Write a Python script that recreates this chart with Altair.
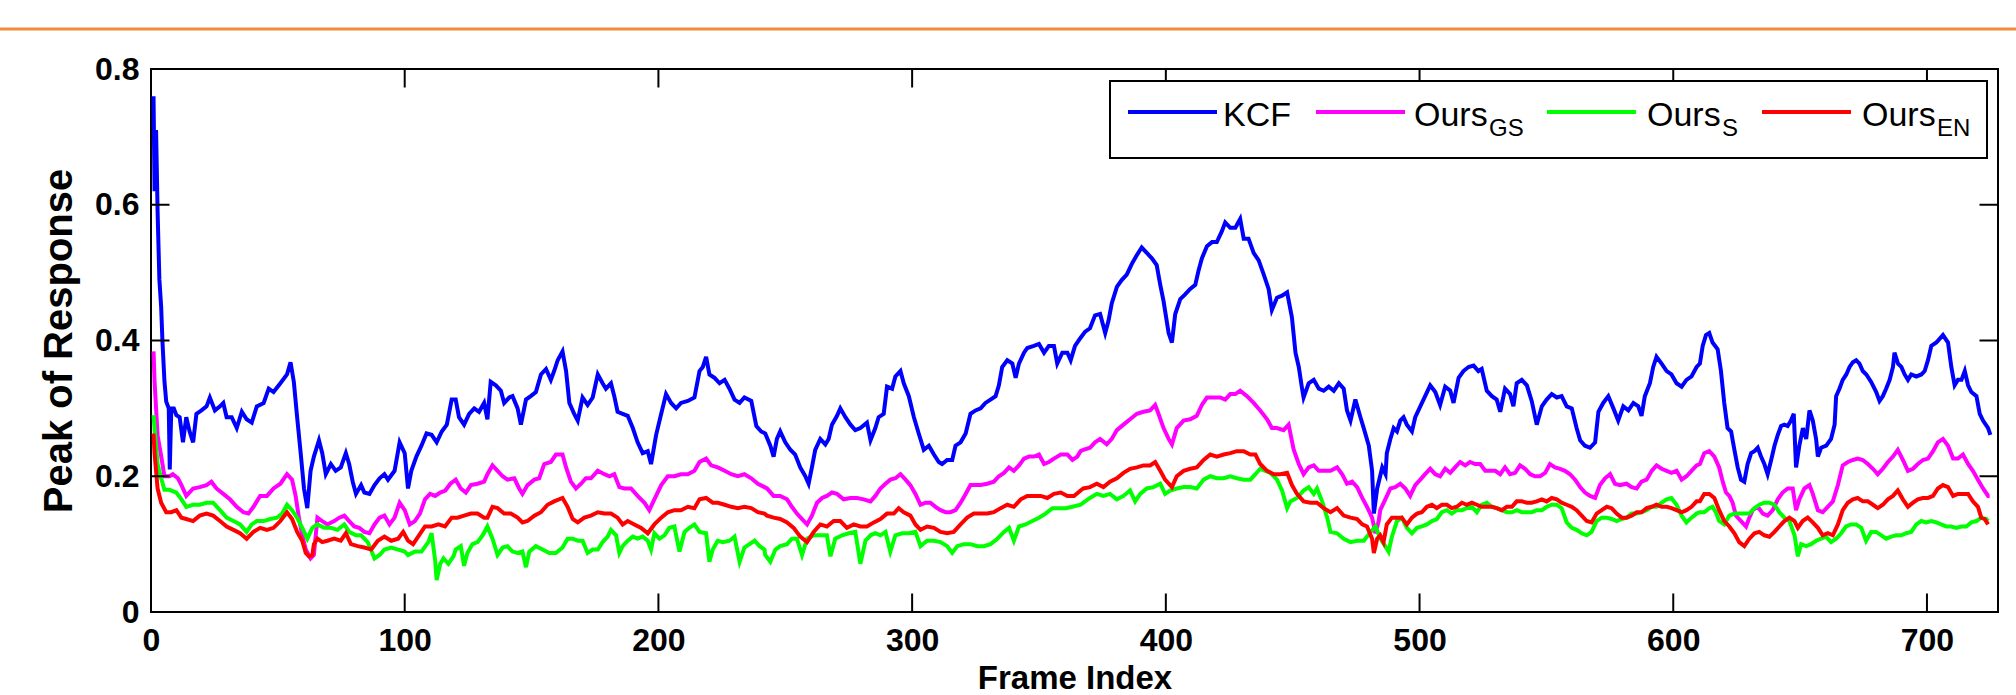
import altair as alt
import pandas as pd

SERIES = ["KCF", "OursGS", "OursS", "OursEN"]
COLORS = ["#0000FF", "#FF00FF", "#00FF00", "#FF0000"]
X_TICKS = [0, 100, 200, 300, 400, 500, 600, 700]
Y_TICKS = [0, 0.2, 0.4, 0.6, 0.8]
X_MAX = 728
Y_MAX = 0.8
X_TITLE = "Frame Index"
Y_TITLE = "Peak of Response"
LEGEND_MAIN = ["KCF", "Ours", "Ours", "Ours"]
LEGEND_SUB = ["", "GS", "S", "EN"]

# KCF: (frame, peak) pairs
KCF = [
    (1, 0.76), (1.4, 0.62), (2, 0.71), (2.6, 0.59), (3.3, 0.49), (4, 0.45), (4.5, 0.40), (5.3, 0.34), (6, 0.31), (7, 0.30),
    (7.4, 0.21), (8, 0.30), (9, 0.30), (10, 0.29), (11.3, 0.287), (12.6, 0.25), (13.9, 0.287), (15.2, 0.266), (16.6, 0.25), (17.9, 0.292),
    (19.9, 0.297), (21.9, 0.303), (23.2, 0.316), (25.2, 0.297), (27.2, 0.303), (28.5, 0.308), (29.8, 0.287), (31.8, 0.287), (33.8, 0.271), (35.8, 0.295),
    (37.7, 0.284), (39.7, 0.279), (41.7, 0.303), (44.4, 0.308), (46.4, 0.329), (48.3, 0.324), (51, 0.337), (53.6, 0.35), (55, 0.368), (56.3, 0.339),
    (57.6, 0.287), (59, 0.234), (60.3, 0.182), (61.6, 0.153), (62.9, 0.208), (64.2, 0.229), (66.2, 0.253), (67.5, 0.234), (68.9, 0.203), (70.9, 0.218),
    (72.8, 0.208), (74.8, 0.213), (76.8, 0.234), (78.1, 0.218), (79.5, 0.192), (80.8, 0.174), (82.8, 0.187), (84.1, 0.176), (86.1, 0.174), (88.1, 0.187),
    (90.1, 0.197), (92, 0.203), (93.4, 0.195), (96, 0.208), (98, 0.25), (100, 0.234), (101.3, 0.182), (102.6, 0.208), (104.6, 0.229), (106.6, 0.245),
    (108.6, 0.263), (110.6, 0.261), (112.6, 0.25), (114.6, 0.266), (116.6, 0.276), (118.5, 0.313),
    (120.1, 0.313), (121.4, 0.287), (123.4, 0.276), (125.4, 0.292), (127.4, 0.3), (129.3, 0.295), (131.3, 0.308), (132.6, 0.284), (133.9, 0.339), (135.9, 0.334),
    (137.9, 0.326), (139.2, 0.308), (141.2, 0.316), (142.5, 0.318), (144.5, 0.3), (145.8, 0.276), (147.8, 0.313), (149.7, 0.318), (151.7, 0.324), (153.7, 0.35),
    (155.7, 0.358), (157.6, 0.342), (158.9, 0.355), (160.3, 0.371), (162.2, 0.384), (163.6, 0.355), (164.9, 0.308), (166.8, 0.292), (168.2, 0.282), (170.1, 0.316),
    (172.1, 0.305), (174.1, 0.316), (176.1, 0.35), (178, 0.337), (179.3, 0.329), (181.3, 0.337), (182.6, 0.318), (183.9, 0.295), (185.9, 0.292), (187.9, 0.289),
    (189.9, 0.271), (191.8, 0.25), (193.8, 0.234), (195.8, 0.237), (197.1, 0.218), (199.1, 0.261), (201.1, 0.292), (203, 0.321), (205, 0.308), (207, 0.3),
    (208.9, 0.308), (211.6, 0.311), (214.2, 0.316), (216.2, 0.355), (217.5, 0.361), (218.8, 0.376), (220.1, 0.35), (222.1, 0.345), (224.1, 0.337), (226.1, 0.342),
    (228, 0.329), (230, 0.313), (232, 0.308), (233.9, 0.316), (236.6, 0.311), (238.6, 0.274), (240.5, 0.266),
    (242.1, 0.263), (244.1, 0.245), (245.4, 0.229), (246.7, 0.255), (248, 0.266), (250, 0.25), (252, 0.239), (253.9, 0.232), (255.9, 0.213), (257.9, 0.2),
    (259.2, 0.189), (260.5, 0.213), (261.8, 0.239), (263.8, 0.255), (265.8, 0.247), (267.1, 0.255), (268.4, 0.276), (270.4, 0.289), (271.7, 0.3), (273.7, 0.287),
    (275.7, 0.276), (277.6, 0.268), (279.6, 0.271), (282.2, 0.279), (283.6, 0.253), (285.5, 0.271), (286.8, 0.287), (288.8, 0.292), (290.1, 0.332), (292.1, 0.329),
    (293.4, 0.347), (295.4, 0.355), (296.7, 0.337), (298.7, 0.318), (300.7, 0.287), (302.6, 0.263), (304.6, 0.239), (306.6, 0.245), (308.6, 0.232), (310.5, 0.221),
    (311.8, 0.218), (313.8, 0.224), (315.8, 0.224), (317.1, 0.245), (319.1, 0.25), (321.1, 0.263), (323, 0.292), (325, 0.297), (327, 0.3), (328.9, 0.308),
    (330.9, 0.313), (332.9, 0.318), (334.2, 0.334), (335.5, 0.361), (337.5, 0.371), (339.5, 0.366), (340.8, 0.345), (342.1, 0.366), (344.1, 0.382), (345.4, 0.389),
    (348, 0.392), (350, 0.395), (352, 0.382), (353.9, 0.392), (355.9, 0.392), (357.2, 0.366), (359.2, 0.382), (361.2, 0.382), (362.5, 0.371),
    (364.2, 0.392), (366.2, 0.403), (368.2, 0.413), (370.1, 0.418), (372.1, 0.437), (374.1, 0.439), (376.1, 0.411), (377.4, 0.429), (378.7, 0.455), (380.7, 0.479),
    (382.6, 0.489), (384.6, 0.497), (386.6, 0.513), (388.6, 0.526), (390.5, 0.537), (392.5, 0.529), (394.5, 0.521), (396.4, 0.511), (397.8, 0.482), (399.1, 0.458),
    (401.1, 0.411), (402.4, 0.397), (403.7, 0.439), (405.7, 0.461), (407.6, 0.468), (409.6, 0.476), (411.6, 0.482), (412.9, 0.503), (414.2, 0.521), (416.2, 0.539),
    (418.2, 0.545), (420.1, 0.545), (422.1, 0.561), (423.4, 0.574), (425.4, 0.566), (427.4, 0.566), (429.3, 0.579), (430.7, 0.55), (432.6, 0.55), (434.6, 0.529),
    (436.6, 0.518), (438.6, 0.497), (440.5, 0.476), (441.8, 0.445), (443.8, 0.463), (445.8, 0.466), (447.8, 0.471), (449.7, 0.434), (451.1, 0.382), (452.4, 0.361),
    (453.7, 0.329), (454.3, 0.316), (456.3, 0.337), (458.3, 0.342), (460.3, 0.329), (462.2, 0.326), (464.2, 0.332), (466.2, 0.326), (468.2, 0.337), (470.1, 0.329),
    (471.4, 0.297), (472.8, 0.282), (474.7, 0.313), (476.7, 0.287), (478, 0.271), (480, 0.245), (481.3, 0.208), (482, 0.145), (483.3, 0.182), (485.3, 0.213),
    (486.6, 0.203),
    (487.1, 0.234), (488.5, 0.255), (489.8, 0.271), (491.1, 0.266), (492.4, 0.282), (493.7, 0.287), (495, 0.276), (497, 0.266), (498.3, 0.287), (500.3, 0.303),
    (502.2, 0.318), (504.2, 0.334), (506.2, 0.324), (508.1, 0.305), (510.1, 0.332), (512.1, 0.326), (513.4, 0.308), (515.4, 0.345), (517.3, 0.355), (519.3, 0.361),
    (521.3, 0.363), (523.2, 0.355), (524.5, 0.358), (526.5, 0.326), (528.5, 0.318), (530.4, 0.313), (531.8, 0.295), (533.7, 0.329), (535.7, 0.321), (537, 0.303),
    (538.3, 0.337), (540.3, 0.342), (542.3, 0.334), (544.2, 0.311), (546.2, 0.276), (548.2, 0.303), (550.1, 0.313), (552.1, 0.321), (554.1, 0.316), (556, 0.318),
    (558, 0.303), (560, 0.3), (561.9, 0.271), (563.3, 0.253), (565.2, 0.245), (567.2, 0.242), (569.2, 0.25), (570.5, 0.295), (572.4, 0.308), (574.4, 0.318),
    (576.4, 0.3), (578.3, 0.282), (580.3, 0.303), (582.3, 0.297), (584.3, 0.308), (586.2, 0.303), (587.5, 0.289), (588.8, 0.318), (590.8, 0.337), (592.1, 0.361),
    (593.4, 0.376), (595.4, 0.366), (597.4, 0.355), (599.3, 0.35), (601.3, 0.337), (603.3, 0.332), (605.2, 0.342), (607.2, 0.347),
    (609.2, 0.361), (610.5, 0.366), (611.6, 0.392), (612.9, 0.408), (614.2, 0.411), (615.5, 0.397), (617.5, 0.387), (618.8, 0.355), (620.1, 0.308), (621.4, 0.271),
    (622.8, 0.266), (624.1, 0.239), (625.4, 0.213), (626.7, 0.195), (628, 0.192), (629.3, 0.218), (630.7, 0.234), (632, 0.237), (633.3, 0.242), (634.6, 0.229),
    (635.9, 0.218), (637.2, 0.203), (638.6, 0.224), (639.9, 0.245), (641.2, 0.261), (642.5, 0.274), (643.8, 0.276), (645.1, 0.274), (646.4, 0.282), (647.5, 0.292),
    (648.4, 0.213), (649.7, 0.245), (651.1, 0.271), (652.4, 0.255), (653.7, 0.297), (655, 0.282), (656.3, 0.255), (657, 0.229), (658.3, 0.242), (660.3, 0.245),
    (662.2, 0.255), (663.6, 0.276), (664.2, 0.318), (665.5, 0.329), (666.8, 0.342), (668.2, 0.35), (669.5, 0.361), (670.8, 0.368), (672.1, 0.371), (673.4, 0.366),
    (674.7, 0.355), (676.1, 0.35), (678, 0.339), (680, 0.324), (681.3, 0.311), (682.6, 0.318), (683.9, 0.329), (685.3, 0.342), (686.6, 0.361), (687.2, 0.382),
    (688.6, 0.366), (689.9, 0.361), (691.2, 0.35), (692.5, 0.342), (693.8, 0.35), (695.8, 0.347), (697.8, 0.35), (699.1, 0.355), (700.4, 0.371), (701.7, 0.392),
    (703.7, 0.397), (706.3, 0.408), (708.3, 0.397), (709.6, 0.361), (710.9, 0.334), (712.2, 0.342), (713.6, 0.342), (714.9, 0.355), (716.2, 0.334), (717.5, 0.324),
    (719.5, 0.318), (720.8, 0.292), (722.1, 0.282), (724.1, 0.271), (725, 0.261),
]

# Ours_GS (magenta)
GS_F = [
    1, 1.4, 2.6, 4, 5.3, 7.3, 8.6, 10.6, 12, 13.9, 16.6, 19.2, 21.9, 23.8, 25.8, 28.5, 31.1, 33.8, 36.4, 38.4,
    40.4, 43, 45.7, 48.3, 51, 53.6, 55.6, 57, 58.3, 59.6, 61, 62.9, 64.2, 65.6, 67.5, 69.5, 72.2, 74.2, 76.2, 78.1,
    80.1, 82.1, 84.1, 86.1, 88.1, 90.1, 92, 94, 96, 98, 100, 102, 104, 106, 108, 110, 112, 114, 116, 118,
    120.1, 122.1, 124.1, 126.1, 128.7, 131.3, 132.6, 134.6, 136.6, 138.6, 140.5, 143.2, 145.1, 146.4, 148.4, 151.1, 153, 155, 157.6, 159.6,
    162.2, 163.6, 165.5, 167.5, 169.5, 171.4, 173.4, 176.1, 178.7, 180.7, 182.6, 184.6, 186.6, 189.2, 191.8, 194.5, 196.4, 198.4, 201.1, 203.7,
    206.3, 208.9, 211.6, 214.2, 216.2, 218.8, 220.8, 223.4, 226.1, 228.7, 231.3, 233.9, 236.6, 239.2, 241.8,
    242.8, 245.4, 248, 250.7, 252.6, 254.6, 256.6, 258.6, 260.5, 262.5, 264.5, 266.4, 268.4, 270.4, 273, 275.7, 278.3, 280.9, 283.6, 285.5,
    287.5, 289.5, 291.4, 293.4, 295.4, 297.4, 299.3, 301.3, 303.3, 305.3, 307.2, 309.2, 311.2, 313.2, 315.1, 317.1, 319.1, 321.1, 323, 325,
    327, 329.6, 332.2, 334.2, 336.2, 338.2, 340.1, 342.1, 344.1, 346.1, 348, 350, 352, 353.9, 355.9, 358.6, 361.2, 363.2, 365.1, 366.4,
    367.5, 370.1, 372.1, 374.1, 376.7, 378.7, 380.7, 383.3, 385.9, 388.6, 391.2, 393.8, 395.8, 397.1, 399.1, 401.1, 402.4, 404.3, 407, 409.6,
    412.2, 414.2, 416.2, 418.8, 421.4, 423.4, 425.4, 427.4, 429.3, 432, 434.6, 437.2, 439.9, 441.8, 443.8, 446.4, 448.4, 450.4, 452.4, 454.3,
    456.3, 458.3, 460.3, 462.2, 464.9, 467.5, 469.5, 471.4, 473.4, 475.4, 477.4, 479.3, 481.3, 482.6, 483.9,
    484.5, 486.5, 488.5, 490.4, 492.4, 494.4, 496.3, 498.3, 500.3, 502.2, 504.2, 506.2, 508.1, 510.1, 512.1, 514, 516, 518, 519.9, 521.9,
    523.9, 525.9, 527.8, 529.8, 531.8, 533.7, 535.7, 537.7, 539.6, 541.6, 543.6, 545.5, 547.5, 549.5, 551.4, 553.4, 555.4, 557.3, 559.3, 561.3,
    563.3, 565.2, 567.2, 569.2, 571.1, 573.1, 575.1, 577, 579, 581.6, 583.6, 585.6, 587.5, 589.5, 591.5, 593.4, 595.4, 597.4, 599.3, 601.3,
    603.3, 605.2, 607.2, 609.2, 610.5,
    612.2, 614.2, 616.2, 618.1, 619.5, 620.8, 622.1, 623.4, 624.7, 626.7, 628.7, 630, 631.3, 633.3, 635.3, 637.2, 639.2, 641.2, 643.1, 645.1,
    647.1, 648.4, 649.7, 651.7, 653.7, 655, 657, 658.9, 660.9, 662.9, 664.9, 666.8, 668.8, 670.8, 672.7, 674.7, 676.7, 678.7, 680.6, 682.6,
    684.6, 686.6, 688.5, 690.5, 692.5, 694.5, 696.4, 698.4, 700.4, 702.4, 704.3, 706.3, 708.3, 710.3, 712.2, 714.2, 716.2, 718.1, 720.1, 722.1,
    724.1, 724.7,
]
GS_V = [
    0.384, 0.34, 0.26, 0.23, 0.2, 0.2, 0.203, 0.197, 0.187, 0.171, 0.182, 0.184, 0.187, 0.192, 0.182, 0.174, 0.166, 0.155, 0.147, 0.145,
    0.155, 0.171, 0.171, 0.182, 0.189, 0.203, 0.195, 0.171, 0.139, 0.113, 0.092, 0.079, 0.084, 0.139, 0.134, 0.129, 0.134, 0.139, 0.142, 0.134,
    0.126, 0.124, 0.118, 0.116, 0.129, 0.139, 0.142, 0.129, 0.139, 0.161, 0.15, 0.129, 0.134, 0.145, 0.166, 0.174, 0.171, 0.176, 0.179, 0.189,
    0.195, 0.182, 0.176, 0.187, 0.189, 0.192, 0.203, 0.216, 0.208, 0.2, 0.195, 0.197, 0.182, 0.174, 0.187, 0.195, 0.197, 0.218, 0.221, 0.232,
    0.232, 0.213, 0.192, 0.182, 0.189, 0.197, 0.197, 0.208, 0.203, 0.2, 0.203, 0.184, 0.182, 0.182, 0.171, 0.161, 0.15, 0.166, 0.187, 0.2,
    0.2, 0.203, 0.203, 0.208, 0.221, 0.226, 0.216, 0.213, 0.208, 0.203, 0.2, 0.203, 0.197, 0.189, 0.184,
    0.182, 0.171, 0.171, 0.166, 0.155, 0.145, 0.137, 0.129, 0.142, 0.161, 0.168, 0.171, 0.176, 0.174, 0.166, 0.168, 0.168, 0.166, 0.163, 0.171,
    0.182, 0.189, 0.195, 0.197, 0.203, 0.195, 0.187, 0.174, 0.158, 0.161, 0.161, 0.155, 0.15, 0.147, 0.147, 0.15, 0.161, 0.174, 0.187, 0.187,
    0.187, 0.189, 0.192, 0.2, 0.205, 0.213, 0.208, 0.216, 0.226, 0.229, 0.229, 0.232, 0.218, 0.221, 0.226, 0.232, 0.232, 0.224, 0.229, 0.237,
    0.239, 0.242, 0.25, 0.255, 0.247, 0.255, 0.268, 0.276, 0.284, 0.292, 0.295, 0.297, 0.305, 0.292, 0.271, 0.255, 0.247, 0.271, 0.282, 0.284,
    0.289, 0.305, 0.316, 0.316, 0.316, 0.313, 0.321, 0.321, 0.326, 0.318, 0.308, 0.297, 0.284, 0.271, 0.271, 0.268, 0.276, 0.239, 0.218, 0.203,
    0.213, 0.216, 0.208, 0.208, 0.208, 0.213, 0.203, 0.189, 0.192, 0.184, 0.168, 0.155, 0.139, 0.116, 0.134,
    0.15, 0.166, 0.182, 0.184, 0.189, 0.182, 0.171, 0.187, 0.195, 0.203, 0.211, 0.203, 0.2, 0.211, 0.205, 0.213, 0.221, 0.216, 0.221, 0.218,
    0.218, 0.208, 0.208, 0.208, 0.203, 0.213, 0.203, 0.205, 0.216, 0.211, 0.203, 0.2, 0.2, 0.205, 0.218, 0.213, 0.211, 0.208, 0.203, 0.195,
    0.184, 0.176, 0.171, 0.168, 0.187, 0.197, 0.203, 0.189, 0.187, 0.189, 0.184, 0.182, 0.192, 0.195, 0.208, 0.216, 0.211, 0.208, 0.205, 0.208,
    0.195, 0.2, 0.208, 0.216, 0.218,
    0.234, 0.237, 0.229, 0.213, 0.192, 0.176, 0.171, 0.161, 0.142, 0.134, 0.126, 0.139, 0.15, 0.155, 0.145, 0.142, 0.15, 0.166, 0.176, 0.182,
    0.182, 0.15, 0.166, 0.182, 0.187, 0.174, 0.15, 0.147, 0.155, 0.163, 0.187, 0.216, 0.221, 0.224, 0.226, 0.224, 0.218, 0.211, 0.203, 0.211,
    0.221, 0.229, 0.239, 0.224, 0.208, 0.211, 0.218, 0.224, 0.226, 0.237, 0.25, 0.255, 0.245, 0.226, 0.226, 0.232, 0.218, 0.208, 0.195, 0.182,
    0.171, 0.171,
]

# Ours_S (green)
S_F = [
    1, 1.4, 2.6, 4, 5.3, 7.3, 10, 12, 13.9, 16.6, 19.2, 21.9, 24.5, 27.2, 29.8, 32.5, 35.1, 37.7, 39.7, 41.7,
    44.4, 47, 49.7, 51.7, 53.6, 55.6, 57.6, 59.6, 61.6, 63.6, 65.6, 68.2, 70.9, 73.5, 76.2, 78.1, 80.8, 82.8, 85.4, 88.1,
    90.1, 92, 94.7, 97.4, 100, 101.3, 104, 106.6, 109.3, 110.6, 112, 112.6, 114, 115.3, 117.2, 119.2,
    120.1, 122.1, 123.4, 124.7, 126.7, 128.7, 130.7, 132.6, 134.6, 136.6, 138.6, 140.5, 142.5, 144.5, 146.4, 147.8, 149.1, 151.7, 154.3, 157,
    159.6, 162.2, 164.2, 166.2, 168.2, 170.1, 172.1, 174.1, 176.1, 178, 180, 181.3, 183.3, 184.6, 185.9, 187.9, 189.9, 191.8, 193.8, 195.8,
    197.1, 198.4, 200.4, 202.4, 204.3, 206.3, 208.3, 210.3, 212.2, 214.2, 216.2, 218.8, 220.1, 221.4, 223.4, 225.4, 228, 230, 232, 233.9,
    235.9, 237.9, 239.9, 241.8,
    242.1, 244.1, 246.1, 248, 250.7, 252.6, 254.6, 256.6, 258.6, 261.2, 263.8, 266.4, 267.8, 269.7, 272.4, 275, 277.6, 279.6, 281.6, 283.6,
    285.5, 287.5, 289.5, 291.4, 293.4, 296.1, 298.7, 301.3, 303.3, 305.9, 308.6, 311.2, 313.8, 315.8, 317.8, 320.4, 323, 325.7, 328.3, 330.9,
    333.6, 336.2, 338.2, 340.1, 342.1, 344.7, 347.4, 350, 352.6, 355.3, 357.9, 360.5, 363.2, 366.4,
    367.5, 370.1, 372.8, 375.4, 378, 380.7, 383.3, 385.9, 387.9, 389.9, 392.5, 395.1, 397.8, 399.7, 401.7, 404.3, 407, 409.6, 412.2, 414.9,
    417.5, 420.1, 422.8, 425.4, 428, 430.7, 433.3, 435.3, 437.2, 439.2, 441.2, 443.8, 445.8, 447.8, 449.1, 451.7, 454.3, 456.3, 458.3, 459.6,
    461.6, 463.6, 464.9, 467.5, 470.1, 472.8, 475.4, 478, 480.7, 482.6, 484.6,
    486.5, 487.8, 489.1, 491.1, 493, 495, 497, 499, 500.9, 502.9, 504.9, 506.8, 508.8, 510.8, 512.7, 514.7, 516.7, 518.6, 520.6, 522.6,
    524.5, 526.5, 528.5, 530.4, 532.4, 534.4, 536.4, 538.3, 540.3, 542.3, 544.2, 546.2, 548.2, 550.1, 552.1, 554.1, 556, 558, 560, 561.9,
    563.9, 565.9, 567.8, 569.8, 571.8, 573.8, 575.7, 577.7, 579.7, 581.6, 583.6, 585.6, 587.5, 589.5, 591.5, 593.4, 595.4, 597.4, 599.3, 601.3,
    603.3, 605.2, 607.2, 609.2, 610.5,
    612.2, 614.2, 615.5, 616.8, 618.1, 620.1, 622.1, 624.1, 626, 628, 630, 632, 633.9, 635.9, 637.9, 639.9, 641.8, 643.8, 645.8, 647.8,
    649.1, 650.4, 652.4, 654.3, 656.3, 658.3, 660.2, 662.2, 664.2, 666.2, 668.1, 670.1, 672.1, 674.1, 676, 678, 680, 682, 683.9, 685.9,
    687.9, 689.9, 691.8, 693.8, 695.8, 697.8, 699.7, 701.7, 703.7, 705.6, 707.6, 709.6, 711.6, 713.5, 715.5, 717.5, 719.5, 721.4, 723.4, 724.1,
]
S_V = [
    0.29, 0.271, 0.218, 0.197, 0.18, 0.18, 0.176, 0.166, 0.155, 0.158, 0.158, 0.161, 0.161, 0.15, 0.139, 0.134, 0.129, 0.118, 0.129, 0.134,
    0.134, 0.137, 0.139, 0.145, 0.158, 0.15, 0.139, 0.124, 0.108, 0.124, 0.129, 0.124, 0.124, 0.121, 0.129, 0.118, 0.113, 0.113, 0.103, 0.079,
    0.084, 0.092, 0.095, 0.092, 0.089, 0.084, 0.089, 0.089, 0.103, 0.116, 0.076, 0.047, 0.071, 0.079, 0.071, 0.082,
    0.092, 0.097, 0.068, 0.087, 0.1, 0.103, 0.113, 0.126, 0.108, 0.084, 0.095, 0.097, 0.089, 0.087, 0.089, 0.066, 0.089, 0.097, 0.092, 0.087,
    0.087, 0.095, 0.108, 0.108, 0.105, 0.105, 0.087, 0.092, 0.092, 0.103, 0.111, 0.121, 0.113, 0.087, 0.097, 0.105, 0.111, 0.108, 0.111, 0.105,
    0.092, 0.116, 0.108, 0.113, 0.124, 0.126, 0.089, 0.118, 0.124, 0.129, 0.118, 0.116, 0.074, 0.092, 0.105, 0.103, 0.105, 0.111, 0.074, 0.095,
    0.1, 0.105, 0.097, 0.092,
    0.084, 0.074, 0.092, 0.097, 0.1, 0.108, 0.108, 0.084, 0.108, 0.113, 0.113, 0.113, 0.082, 0.108, 0.113, 0.116, 0.118, 0.071, 0.105, 0.113,
    0.116, 0.113, 0.118, 0.089, 0.113, 0.116, 0.116, 0.118, 0.097, 0.105, 0.105, 0.103, 0.097, 0.087, 0.097, 0.1, 0.1, 0.097, 0.097, 0.1,
    0.108, 0.118, 0.124, 0.105, 0.126, 0.129, 0.134, 0.139, 0.145, 0.153, 0.153, 0.153, 0.155, 0.158,
    0.161, 0.168, 0.174, 0.171, 0.174, 0.166, 0.171, 0.179, 0.163, 0.174, 0.182, 0.184, 0.189, 0.174, 0.179, 0.182, 0.184, 0.184, 0.182, 0.195,
    0.2, 0.197, 0.197, 0.2, 0.197, 0.195, 0.195, 0.203, 0.211, 0.208, 0.205, 0.195, 0.179, 0.153, 0.163, 0.168, 0.179, 0.184, 0.174, 0.182,
    0.163, 0.139, 0.118, 0.116, 0.108, 0.103, 0.105, 0.105, 0.118, 0.126, 0.108,
    0.097, 0.089, 0.111, 0.134, 0.139, 0.124, 0.116, 0.124, 0.126, 0.129, 0.134, 0.137, 0.147, 0.15, 0.145, 0.15, 0.15, 0.153, 0.155, 0.147,
    0.158, 0.161, 0.155, 0.153, 0.15, 0.147, 0.147, 0.15, 0.147, 0.147, 0.147, 0.15, 0.15, 0.155, 0.158, 0.158, 0.153, 0.132, 0.124, 0.121,
    0.116, 0.113, 0.118, 0.134, 0.139, 0.139, 0.137, 0.134, 0.137, 0.139, 0.145, 0.145, 0.147, 0.15, 0.155, 0.155, 0.161, 0.166, 0.168, 0.158,
    0.142, 0.132, 0.139, 0.145, 0.147,
    0.147, 0.153, 0.155, 0.147, 0.134, 0.129, 0.142, 0.145, 0.145, 0.145, 0.145, 0.153, 0.158, 0.161, 0.161, 0.158, 0.147, 0.139, 0.134, 0.113,
    0.082, 0.1, 0.097, 0.1, 0.105, 0.108, 0.111, 0.103, 0.108, 0.116, 0.126, 0.129, 0.129, 0.124, 0.105, 0.118, 0.118, 0.113, 0.108, 0.111,
    0.113, 0.113, 0.116, 0.118, 0.129, 0.134, 0.132, 0.134, 0.132, 0.129, 0.126, 0.126, 0.124, 0.126, 0.126, 0.132, 0.134, 0.139, 0.137, 0.134,
]

# Ours_EN (red)
EN_F = [
    1, 1.4, 2.6, 4, 6, 8, 10, 12, 13.9, 16.6, 19.2, 21.9, 24.5, 27.2, 29.8, 32.5, 35.1, 37.7, 40.4, 43,
    45.7, 48.3, 51, 53.6, 55.6, 57.6, 59.6, 61, 62.3, 63.6, 64.2, 65.6, 67.5, 69.5, 72.2, 74.8, 76.8, 78.8, 81.5, 84.1,
    86.8, 89.4, 92, 94.7, 97.4, 99.4, 101.3, 103.3, 105.3, 108, 110.6, 113.3, 115.9, 118.5,
    120.8, 123.4, 126.1, 128.7, 131.3, 132.6, 134.6, 136.6, 139.2, 141.8, 144.5, 146.4, 148.4, 151.1, 153.7, 156.3, 158.9, 162.2, 164.2, 166.2,
    168.2, 170.8, 173.4, 176.1, 178.7, 181.3, 183.9, 185.9, 187.9, 190.5, 193.2, 195.8, 198.4, 201.1, 203.7, 206.3, 208.9, 211.6, 214.2, 216.2,
    218.8, 221.4, 223.4, 226.1, 228.7, 231.3, 233.9, 236.6, 239.2, 241.8,
    242.8, 245.4, 248, 250.7, 253.3, 255.9, 258.6, 261.2, 263.8, 266.4, 269.1, 271.7, 274.3, 277, 279.6, 282.2, 284.9, 287.5, 290.1, 292.8,
    294.7, 296.7, 299.3, 301.3, 303.3, 305.9, 308.6, 311.2, 313.8, 316.4, 319.1, 321.7, 324.3, 327, 329.6, 332.2, 334.9, 337.5, 340.1, 342.8,
    345.4, 348, 350.7, 353.3, 355.9, 358.6, 361.2, 363.8, 366.4,
    367.5, 370.1, 372.8, 375.4, 378, 380.7, 383.3, 385.9, 388.6, 391.2, 393.8, 395.8, 397.8, 399.7, 402.4, 404.3, 407, 409.6, 412.2, 414.9,
    417.5, 420.1, 422.8, 425.4, 428, 430.7, 433.3, 435.3, 437.2, 439.9, 442.5, 445.1, 447.8, 449.7, 451.7, 454.3, 457, 459.6, 462.2, 464.9,
    467.5, 470.1, 472.8, 475.4, 477.4, 479.3, 481.3, 482, 483.3,
    484.5, 485.8, 487.1, 489.1, 491.1, 493, 495, 497, 499, 500.9, 502.9, 504.9, 506.8, 508.8, 510.8, 512.7, 514.7, 516.7, 518.6, 520.6,
    522.6, 524.5, 526.5, 528.5, 530.4, 532.4, 534.4, 536.4, 538.3, 540.3, 542.3, 544.2, 546.2, 548.2, 550.1, 552.1, 554.1, 556, 558, 560,
    561.9, 563.9, 565.9, 567.8, 569.8, 571.8, 573.8, 575.7, 577.7, 579.7, 581.6, 583.6, 585.6, 587.5, 589.5, 591.5, 593.4, 595.4, 597.4, 599.3,
    601.3, 603.3, 605.2, 607.2, 609.2, 610.5,
    612.2, 614.2, 616.2, 618.1, 620.1, 622.1, 624.1, 626, 628, 630, 632, 633.9, 635.9, 637.9, 639.9, 641.8, 643.8, 645.8, 647.8, 649.1,
    651, 653, 655, 657, 658.9, 660.9, 662.9, 664.9, 666.8, 668.8, 670.8, 672.7, 674.7, 676.7, 678.7, 680.6, 682.6, 684.6, 686.6, 688.5,
    690.5, 692.5, 694.5, 696.4, 698.4, 700.4, 702.4, 704.3, 706.3, 708.3, 710.3, 712.2, 714.2, 716.2, 718.1, 720.1, 721.4, 722.7, 724.1,
]
EN_V = [
    0.263, 0.234, 0.182, 0.161, 0.147, 0.147, 0.15, 0.139, 0.137, 0.134, 0.142, 0.145, 0.142, 0.134, 0.126, 0.121, 0.116, 0.108, 0.118, 0.124,
    0.121, 0.124, 0.134, 0.147, 0.137, 0.118, 0.105, 0.087, 0.082, 0.084, 0.1, 0.108, 0.103, 0.105, 0.108, 0.105, 0.116, 0.1, 0.097, 0.095,
    0.092, 0.105, 0.111, 0.105, 0.108, 0.118, 0.105, 0.1, 0.111, 0.126, 0.126, 0.129, 0.126, 0.139,
    0.139, 0.142, 0.145, 0.145, 0.139, 0.139, 0.155, 0.153, 0.145, 0.145, 0.139, 0.132, 0.134, 0.142, 0.147, 0.158, 0.163, 0.168, 0.155, 0.137,
    0.132, 0.139, 0.142, 0.147, 0.145, 0.145, 0.139, 0.129, 0.134, 0.129, 0.124, 0.116, 0.129, 0.139, 0.147, 0.15, 0.15, 0.155, 0.153, 0.166,
    0.168, 0.161, 0.161, 0.158, 0.155, 0.153, 0.155, 0.153, 0.147, 0.145,
    0.142, 0.139, 0.137, 0.132, 0.124, 0.111, 0.103, 0.118, 0.129, 0.126, 0.134, 0.134, 0.124, 0.129, 0.126, 0.126, 0.132, 0.137, 0.145, 0.145,
    0.153, 0.147, 0.142, 0.129, 0.121, 0.126, 0.124, 0.118, 0.116, 0.118, 0.129, 0.139, 0.145, 0.145, 0.145, 0.147, 0.153, 0.158, 0.155, 0.166,
    0.171, 0.171, 0.171, 0.168, 0.174, 0.176, 0.171, 0.171, 0.179,
    0.182, 0.184, 0.189, 0.184, 0.192, 0.197, 0.205, 0.211, 0.213, 0.216, 0.216, 0.221, 0.208, 0.195, 0.184, 0.2, 0.208, 0.211, 0.213, 0.224,
    0.232, 0.229, 0.232, 0.234, 0.237, 0.237, 0.232, 0.232, 0.218, 0.208, 0.203, 0.203, 0.205, 0.187, 0.174, 0.163, 0.161, 0.161, 0.153, 0.147,
    0.153, 0.142, 0.139, 0.137, 0.129, 0.126, 0.108, 0.087, 0.108,
    0.113, 0.103, 0.129, 0.139, 0.139, 0.139, 0.129, 0.139, 0.145, 0.147, 0.155, 0.158, 0.153, 0.158, 0.158, 0.153, 0.155, 0.161, 0.158, 0.161,
    0.158, 0.155, 0.155, 0.155, 0.153, 0.15, 0.155, 0.155, 0.163, 0.163, 0.161, 0.161, 0.163, 0.166, 0.163, 0.168, 0.166, 0.161, 0.158, 0.155,
    0.15, 0.142, 0.134, 0.132, 0.145, 0.15, 0.155, 0.153, 0.145, 0.139, 0.139, 0.142, 0.147, 0.147, 0.153, 0.155, 0.158, 0.155, 0.155, 0.153,
    0.15, 0.147, 0.15, 0.155, 0.163, 0.163,
    0.174, 0.174, 0.168, 0.15, 0.134, 0.126, 0.116, 0.103, 0.097, 0.108, 0.116, 0.118, 0.113, 0.111, 0.118, 0.126, 0.134, 0.139, 0.134, 0.124,
    0.134, 0.139, 0.132, 0.124, 0.113, 0.116, 0.113, 0.129, 0.15, 0.161, 0.166, 0.168, 0.163, 0.163, 0.158, 0.153, 0.158, 0.166, 0.171, 0.179,
    0.166, 0.155, 0.161, 0.166, 0.168, 0.168, 0.171, 0.182, 0.187, 0.184, 0.171, 0.174, 0.174, 0.174, 0.163, 0.155, 0.139, 0.137, 0.129,
]

rows = []
def add(name, pts):
    for i, (f, v) in enumerate(pts):
        rows.append({"series": name, "frame": f, "value": v, "i": i})

add("KCF", KCF)
for name, F, V in [("OursGS", GS_F, GS_V), ("OursS", S_F, S_V), ("OursEN", EN_F, EN_V)]:
    if len(F) != len(V):
        raise ValueError(f"{name}: {len(F)} frames vs {len(V)} values")
    add(name, list(zip(F, V)))
df = pd.DataFrame(rows)

W, H = 1847, 543
TICK = 18.5
FONT = "Liberation Sans"
xs = alt.Scale(domain=[0, X_MAX], nice=False, zero=False)
ys = alt.Scale(domain=[0, Y_MAX], nice=False)
cs = alt.Scale(domain=SERIES, range=COLORS)

x_axis = alt.Axis(values=X_TICKS, ticks=False, tickSize=0, domain=False, grid=False,
                  labelFont=FONT, labelFontSize=32, labelFontWeight="bold", labelColor="black",
                  labelPadding=13, labelFlush=False, labelOverlap=False,
                  title=X_TITLE, titleFont=FONT, titleFontSize=33, titleFontWeight="bold",
                  titleColor="black", titlePadding=6)
y_axis = alt.Axis(values=Y_TICKS, ticks=False, tickSize=0, domain=False, grid=False,
                  labelFont=FONT, labelFontSize=32, labelFontWeight="bold", labelColor="black",
                  labelPadding=12, labelFlush=False, labelOverlap=False,
                  labelExpr="datum.value === 0 ? '0' : format(datum.value, '.1f')",
                  title=Y_TITLE, titleFont=FONT, titleFontSize=40, titleFontWeight="bold",
                  titleColor="black", titlePadding=15)

layers = []
for s in SERIES:
    layers.append(
        alt.Chart(df).transform_filter(alt.datum.series == s)
        .mark_line(strokeWidth=4, clip=True)
        .encode(
            x=alt.X("frame:Q", scale=xs, axis=x_axis),
            y=alt.Y("value:Q", scale=ys, axis=y_axis),
            color=alt.Color("series:N", scale=cs, legend=None),
            order=alt.Order("i:Q"),
        )
    )

xt = pd.DataFrame({"frame": X_TICKS})
yt = pd.DataFrame({"value": Y_TICKS})
for y0, y1 in [(H, H - TICK), (0, TICK)]:
    layers.append(alt.Chart(xt).mark_rule(color="black", strokeWidth=2).encode(
        x=alt.X("frame:Q", scale=xs, axis=x_axis), y=alt.value(y0), y2=alt.value(y1)))
for x0, x1 in [(0, TICK), (W - TICK, W)]:
    layers.append(alt.Chart(yt).mark_rule(color="black", strokeWidth=2).encode(
        y=alt.Y("value:Q", scale=ys, axis=y_axis), x=alt.value(x0), x2=alt.value(x1)))

one = pd.DataFrame({"k": [0]})
# legend box
layers.append(alt.Chart(one).mark_rect(fill="white", stroke="black", strokeWidth=2).encode(
    x=alt.value(959), x2=alt.value(1836), y=alt.value(12), y2=alt.value(89)))
LINE_X = [977, 1165, 1396, 1611]
TEXT_X = [1072, 1263, 1496, 1711]
SUB_X = [0, 1338, 1571, 1786]
for k in range(4):
    layers.append(alt.Chart(one).mark_rule(color=COLORS[k], strokeWidth=4).encode(
        x=alt.value(LINE_X[k]), x2=alt.value(LINE_X[k] + 89), y=alt.value(43)))
    layers.append(alt.Chart(one).mark_text(align="left", baseline="alphabetic", font=FONT,
                                           fontSize=34, color="black").encode(
        x=alt.value(TEXT_X[k]), y=alt.value(57), text=alt.value(LEGEND_MAIN[k])))
    if LEGEND_SUB[k]:
        layers.append(alt.Chart(one).mark_text(align="left", baseline="alphabetic", font=FONT,
                                               fontSize=24, color="black").encode(
            x=alt.value(SUB_X[k]), y=alt.value(67), text=alt.value(LEGEND_SUB[k])))

# orange rule across the top of the page
layers.append(alt.Chart(one).mark_rule(color="#F08A3C", strokeWidth=3).encode(
    x=alt.value(-151), x2=alt.value(2016 - 151), y=alt.value(-40)))

chart = alt.layer(*layers).properties(
    width=W, height=H,
    padding={"left": 151, "top": 69, "right": 18, "bottom": 83},
    autosize=alt.AutoSizeParams(type="none"),
    background="white",
).configure_view(stroke="black", strokeWidth=2)

chart.save("out.html", embed_options={"renderer": "svg", "actions": False})
